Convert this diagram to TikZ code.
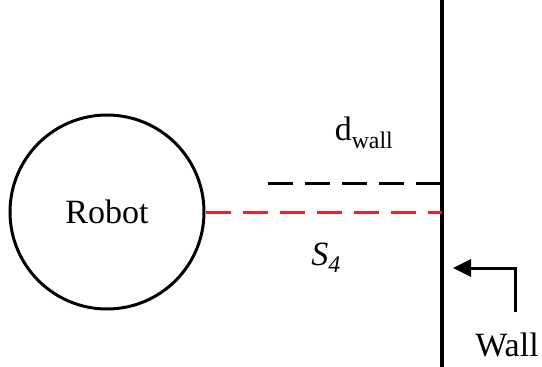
\documentclass[tikz,border=0pt]{standalone}
\usepackage{fontspec}
\setmainfont{Liberation Serif}
\usetikzlibrary{positioning, arrows.meta, calc}
\definecolor{rangered}{RGB}{235,35,40}

\begin{document}
\begin{tikzpicture}[x=1pt, y=-1pt,
  robotnd/.style={circle, draw=black, line width=3pt, minimum size=194pt,
    inner sep=0pt, font=\fontsize{34}{40}\selectfont},
  lbl/.style={font=\fontsize{34}{40}\selectfont, inner sep=1pt},
  wallln/.style={line width=3.2pt, black},
  dsh/.style={line width=3pt, dash pattern=on 25pt off 12pt},
  arr/.style={-{Triangle[length=18pt, width=17pt]}, line width=3pt, black},
]
  \useasboundingbox (0,0) rectangle (542,367);

  \node[robotnd] (robot) at (107,212) {Robot};

  % wall
  \coordinate (wtop) at (442,0);
  \coordinate (wbot) at (442,367);
  \draw[wallln] (wtop) -- (wbot);

  % distances
  \coordinate (dstart) at (268,183);
  \coordinate (dend) at (442,183);
  \coordinate (send) at (442,212);
  \draw[dsh, black] (dstart) -- (dend);
  \draw[dsh, rangered] (robot.east) -- (send);

  \node[lbl] (dwall) at (364,133) {d\textsubscript{wall}};
  \node[lbl] (s4) at (326,258) {\textit{S\textsubscript{4}}};

  % wall pointer
  \node[lbl] (wlabel) at (507,345) {Wall};
  \coordinate (bend) at (515,268);
  \coordinate (tip) at (453,268);
  \draw[arr] (515,312) -- (bend) -- (tip);
\end{tikzpicture}
\end{document}
